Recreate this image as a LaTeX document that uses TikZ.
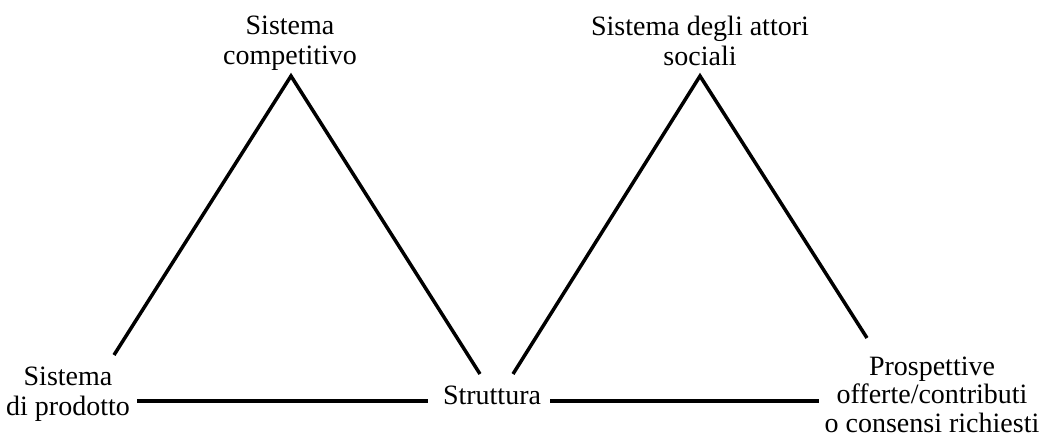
\documentclass[tikz,border=0pt]{standalone}
\usepackage{fontspec}
\setmainfont{Liberation Serif}
\begin{document}
\begin{tikzpicture}[x=1pt,y=-1pt,
  lbl/.style={align=center,inner sep=0pt,anchor=base,font=\fontsize{28}{30}\selectfont},
  edge/.style={line width=3.5pt,line cap=butt}]
\useasboundingbox (0,0) rectangle (1041,438);
% labels (anchor = baseline of the last line)
\node[lbl] (comp) at (290,65) {Sistema\\competitivo};
\node[lbl] (attori) at (700,66) {Sistema degli attori\\sociali};
\node[lbl] (prod) at (68,415) {Sistema\\di prodotto};
\node[lbl] (strutt) at (492,404) {Struttura};
\node[lbl,font=\fontsize{28}{28.5}\selectfont] (prosp) at (932,432) {Prospettive\\offerte/contributi\\o consensi richiesti};
% end points
\coordinate (a1) at (291,76);
\coordinate (l1) at (114,355);
\coordinate (r1) at (480,374);
\coordinate (a2) at (700,76);
\coordinate (l2) at (513,374);
\coordinate (r2) at (867,338);
\coordinate (h1s) at (137,401);
\coordinate (h1e) at (428,401);
\coordinate (h2s) at (550,401);
\coordinate (h2e) at (819,401);
% connectors
\draw[edge] (l1) -- (a1) -- (r1);
\draw[edge] (l2) -- (a2) -- (r2);
\draw[edge] (h1s) -- (h1e);
\draw[edge] (h2s) -- (h2e);
\end{tikzpicture}
\end{document}
